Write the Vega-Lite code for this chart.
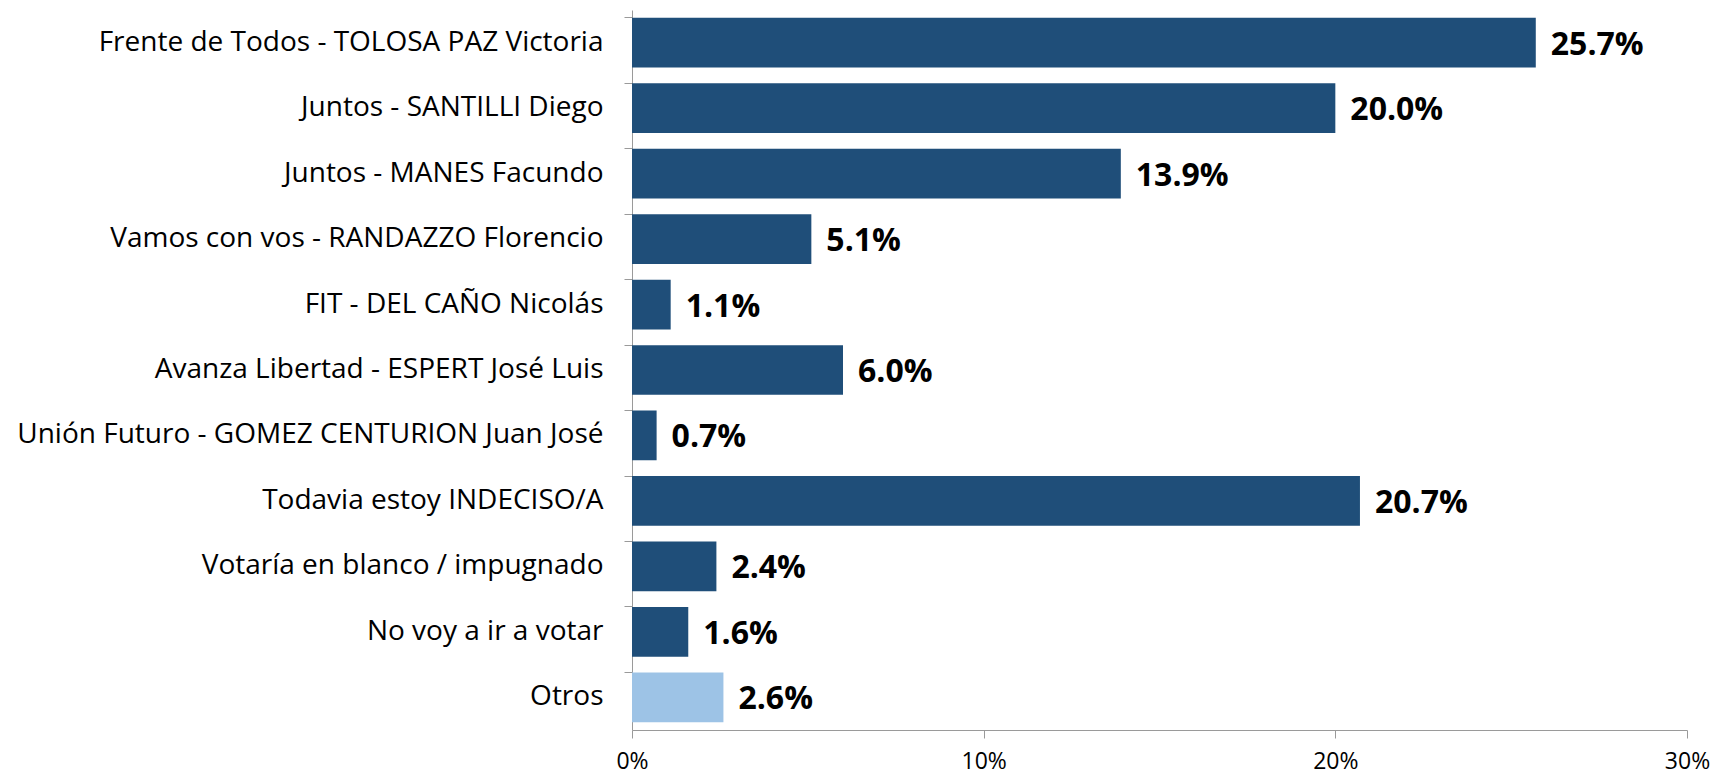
{
  "$schema": "https://vega.github.io/schema/vega-lite/v6.json",
  "width": 1055,
  "height": 720,
  "autosize": {"type": "none"},
  "padding": {"left": 632, "top": 10, "right": 38, "bottom": 48},
  "background": "white",
  "config": {"view": {"stroke": null}, "font": "Open Sans"},
  "data": {
    "values": [
      {"cat": "Frente de Todos - TOLOSA PAZ Victoria", "v": 0.257, "grp": "main"},
      {"cat": "Juntos - SANTILLI Diego", "v": 0.200, "grp": "main"},
      {"cat": "Juntos - MANES Facundo", "v": 0.139, "grp": "main"},
      {"cat": "Vamos con vos - RANDAZZO Florencio", "v": 0.051, "grp": "main"},
      {"cat": "FIT - DEL CAÑO Nicolás", "v": 0.011, "grp": "main"},
      {"cat": "Avanza Libertad - ESPERT José Luis", "v": 0.060, "grp": "main"},
      {"cat": "Unión Futuro - GOMEZ CENTURION Juan José", "v": 0.007, "grp": "main"},
      {"cat": "Todavia estoy INDECISO/A", "v": 0.207, "grp": "main"},
      {"cat": "Votaría en blanco / impugnado", "v": 0.024, "grp": "main"},
      {"cat": "No voy a ir a votar", "v": 0.016, "grp": "main"},
      {"cat": "Otros", "v": 0.026, "grp": "otros"}
    ]
  },
  "encoding": {
    "y": {
      "field": "cat", "type": "nominal", "sort": null,
      "scale": {"paddingInner": 0.24, "paddingOuter": 0.12},
      "axis": {
        "title": null, "labelFontSize": 28, "labelColor": "#000000", "labelLimit": 700,
        "labelPadding": 21, "domainColor": "#9a9a9a", "tickColor": "#9a9a9a",
        "tickSize": 8, "bandPosition": 0, "labelFont": "Open Sans"
      }
    },
    "x": {
      "field": "v", "type": "quantitative",
      "scale": {"domain": [0, 0.3], "nice": false},
      "axis": {
        "title": null, "format": ".0%", "values": [0, 0.1, 0.2, 0.3],
        "labelFontSize": 23, "labelColor": "#000000", "grid": false, "labelFlush": false,
        "domainColor": "#9a9a9a", "tickColor": "#9a9a9a", "tickSize": 8,
        "labelPadding": 12, "labelFont": "Open Sans"
      }
    }
  },
  "layer": [
    {
      "mark": {"type": "bar"},
      "encoding": {
        "color": {
          "field": "grp", "type": "nominal",
          "scale": {"domain": ["main", "otros"], "range": ["#1F4E79", "#9DC3E6"]},
          "legend": null
        }
      }
    },
    {
      "mark": {"type": "text", "align": "left", "baseline": "middle", "dx": 15, "dy": 2, "fontSize": 32, "fontWeight": "bold", "color": "#000000", "font": "Open Sans"},
      "encoding": {
        "text": {"field": "v", "type": "quantitative", "format": ".1%"}
      }
    }
  ]
}
